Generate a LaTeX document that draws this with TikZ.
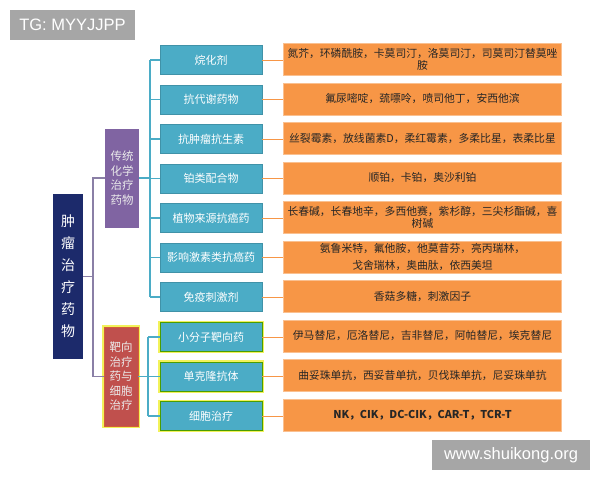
\documentclass[tikz,border=0pt]{standalone}
\usepackage{fontspec}
\setmainfont{Noto Sans CJK SC}
\newfontfamily\wmfont{Liberation Sans}
\usetikzlibrary{calc}
\definecolor{navyblue}{HTML}{1C2A6B}
\definecolor{chempurple}{HTML}{8064A2}
\definecolor{targred}{HTML}{C0504D}
\definecolor{drugteal}{HTML}{4BACC6}
\definecolor{detailorange}{HTML}{F79646}
\definecolor{trunkgray}{HTML}{8A7FA6}
\definecolor{glowyellow}{HTML}{F2F25A}
\tikzset{%
  mybox/.style={rectangle, inner sep=0pt, align=center},
  rootbox/.style={mybox, fill=navyblue, text=white, minimum width=30pt, minimum height=165pt, font=\fontsize{14}{22}\selectfont},
  groupbox/.style={mybox, minimum width=34pt, minimum height=99pt, text=white!92!black, font=\fontsize{11.5}{14.5}\selectfont},
  drugbox/.style={mybox, fill=drugteal, draw=drugteal!85!black, line width=0.4pt, text=white, minimum width=102pt, minimum height=29pt, font=\fontsize{11}{13}\selectfont},
  detailbox/.style={mybox, fill=detailorange, draw=detailorange!60!white, line width=0.6pt, text=black!85, minimum width=278pt, minimum height=32pt, font=\fontsize{10.8}{12.5}\selectfont},
  glow/.style={preaction={draw=glowyellow, line width=3.2pt}},
  trunk/.style={draw=trunkgray, line width=1.2pt},
  twig/.style={draw=drugteal, line width=1.2pt},
  leaf/.style={draw=detailorange, line width=1pt},
  wmbox/.style={mybox, fill=black!35, text=white, font=\wmfont\fontsize{16.5}{18}\selectfont}
}

\begin{document}
\begin{tikzpicture}[x=1pt, y=-1pt]
\useasboundingbox (0,0) rectangle (600,480);

% watermarks
\node [wmbox, minimum width=125pt, minimum height=30pt] (WM1) at (72.5,25) {TG: MYYJJPP};
\node [wmbox, minimum width=158pt, minimum height=30pt] (WM2) at (511,455) {www.shuikong.org};

% root and the two groups
\node [rootbox] (R) at (68,276.5) {肿\\瘤\\治\\疗\\药\\物};
\node [groupbox, fill=chempurple] (C) at (122,178) {传统\\化学\\治疗\\药物};
\node [groupbox, fill=targred, draw=targred!70!orange, line width=0.8pt, glow] (T) at (121,376.5) {靶向\\治疗\\药与\\细胞\\治疗};

\coordinate (J0) at (93,276.5);
\coordinate (J1) at (150,178);
\coordinate (J2) at (148,376.5);

\draw [trunk] (R.east) -- (J0);
\draw [trunk] (C.west) -| (J0) |- (T.west);

% traditional chemotherapy drugs
\foreach \i / \drug / \detail in {
  1/烷化剂/{氮芥，环磷酰胺，卡莫司汀，洛莫司汀，司莫司汀替莫唑\\胺},
  2/抗代谢药物/{氟尿嘧啶，巯嘌呤，喷司他丁，安西他滨},
  3/抗肿瘤抗生素/{丝裂霉素，放线菌素D，柔红霉素，多柔比星，表柔比星},
  4/铂类配合物/{顺铂，卡铂，奥沙利铂},
  5/植物来源抗癌药/{长春碱，长春地辛，多西他赛，紫杉醇，三尖杉酯碱，喜\\树碱},
  6/影响激素类抗癌药/{氨鲁米特，氟他胺，他莫昔芬，亮丙瑞林，\\[5pt]戈舍瑞林，奥曲肽，依西美坦},
  7/免疫刺激剂/{香菇多糖，刺激因子}}{
  \node [drugbox] (C\i) at (211,{60+39.5*(\i-1)}) {\drug};
  \node [detailbox] (CD\i) at (422.5,{59.5+39.5*(\i-1)}) {\detail};
  \draw [twig] (J1 |- C\i.west) -- (C\i.west);
  \draw [leaf] (C\i.east) -- (C\i.east -| CD\i.west);
}
\draw [twig] (C.east) -- (J1);
\draw [twig] (J1 |- C1.west) -- (J1 |- C7.west);

% targeted drugs and cell therapy
\foreach \i / \drug / \detail in {
  1/小分子靶向药/{伊马替尼，厄洛替尼，吉非替尼，阿帕替尼，埃克替尼},
  2/单克隆抗体/{曲妥珠单抗，西妥昔单抗，贝伐珠单抗，尼妥珠单抗},
  3/细胞治疗/{\bfseries NK，CIK，DC-CIK，CAR-T，TCR-T}}{
  \node [drugbox, draw=green!45!black!70!yellow, line width=0.8pt, glow] (T\i) at (211,{337+39.5*(\i-1)}) {\drug};
  \node [detailbox] (TD\i) at (422.5,{336+39.5*(\i-1)}) {\detail};
  \draw [twig] (J2 |- T\i.west) -- (T\i.west);
  \draw [leaf] (T\i.east) -- (T\i.east -| TD\i.west);
}
\draw [twig] (T.east) -- (J2);
\draw [twig] (J2 |- T1.west) -- (J2 |- T3.west);

\end{tikzpicture}
\end{document}
